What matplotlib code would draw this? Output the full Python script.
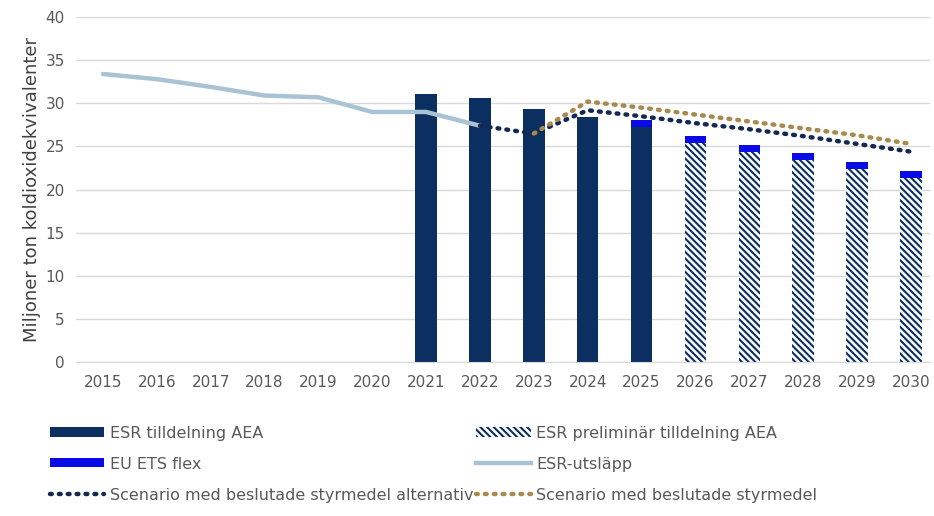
import matplotlib
matplotlib.use("Agg")
import matplotlib.pyplot as plt
from matplotlib.patches import Patch
from matplotlib.lines import Line2D

plt.rcParams['hatch.linewidth'] = 1.5

years = list(range(2015, 2031))

# ESR emissions (historical)
esr_years = [2015, 2016, 2017, 2018, 2019, 2020, 2021, 2022]
esr_utslapp = [33.4, 32.8, 31.9, 30.9, 30.7, 29.0, 29.0, 27.4]

# Annual emission allocations
aea_years = [2021, 2022, 2023, 2024, 2025]
aea = [31.1, 30.6, 29.4, 28.4, 27.2]
prel_years = [2026, 2027, 2028, 2029, 2030]
prel = [25.4, 24.4, 23.4, 22.4, 21.4]

# EU ETS flexibility on top of the allocations
flex_years = [2025, 2026, 2027, 2028, 2029, 2030]
flex = [0.9, 0.8, 0.8, 0.8, 0.8, 0.8]

# Scenarios
scen_alt_years = [2022, 2023, 2024, 2025, 2026, 2027, 2028, 2029, 2030]
scen_alt = [27.4, 26.5, 29.2, 28.5, 27.7, 27.0, 26.2, 25.3, 24.4]
scen_years = [2023, 2024, 2025, 2026, 2027, 2028, 2029, 2030]
scen = [26.5, 30.2, 29.5, 28.7, 27.9, 27.1, 26.3, 25.3]

navy = '#0c2f62'
flex_blue = '#0a0ae6'
esr_col = '#a9c3d4'
gold = '#a88a4e'
navy_dot = '#13294f'
txt = '#595959'
dots = (0, (0.4, 1.6))
hatch = '\\\\\\\\\\'

fig = plt.figure(figsize=(9.34, 5.16), dpi=100)
ax = fig.add_axes([0.0814, 0.298, 0.914, 0.669])

w = 0.4
ax.bar(aea_years, aea, width=w, color=navy, zorder=2)
ax.bar(prel_years, prel, width=w, color='white', edgecolor=navy,
       hatch=hatch, linewidth=0, zorder=2)
alloc = dict(zip(aea_years + prel_years, aea + prel))
flex_base = [alloc[y] for y in flex_years]
ax.bar(flex_years, flex, width=w, bottom=flex_base, color=flex_blue, zorder=3)

ax.plot(esr_years, esr_utslapp, color=esr_col, lw=3.2, zorder=4,
        solid_capstyle='round')
ax.plot(scen_alt_years, scen_alt, color=navy_dot, lw=3.2, ls=dots,
        dash_capstyle='round', zorder=5)
ax.plot(scen_years, scen, color=gold, lw=3.2, ls=dots,
        dash_capstyle='round', zorder=5)

ax.set_ylim(0, 40)
ax.set_xlim(2014.5, 2030.35)
ax.set_yticks(range(0, 41, 5))
ax.set_xticks(years)
ax.grid(axis='y', color='#d9d9d9', lw=1.0, zorder=0)
ax.set_axisbelow(True)
for s in ax.spines.values():
    s.set_visible(False)
ax.spines['bottom'].set_visible(True)
ax.spines['bottom'].set_color('#d9d9d9')
ax.tick_params(length=0, labelsize=11, colors=txt, pad=9)
ax.tick_params(axis='y', pad=8)
ax.set_ylabel('Miljoner ton koldioxidekvivalenter', fontsize=13, color='#404040',
              labelpad=3)

handles = [
    Patch(facecolor=navy, edgecolor='none', label='ESR tilldelning AEA'),
    Patch(facecolor=flex_blue, edgecolor='none', label='EU ETS flex'),
    Line2D([], [], color=navy_dot, lw=3.2, ls=dots,
           dash_capstyle='round', label='Scenario med beslutade styrmedel alternativ'),
    Patch(facecolor='white', edgecolor=navy, hatch=hatch, lw=0,
          label='ESR preliminär tilldelning AEA'),
    Line2D([], [], color=esr_col, lw=3.2, label='ESR-utsläpp'),
    Line2D([], [], color=gold, lw=3.2, ls=dots,
           dash_capstyle='round', label='Scenario med beslutade styrmedel'),
]
leg = fig.legend(handles=handles, ncol=2, loc='upper left',
                 bbox_to_anchor=(0.038, 0.203), frameon=False,
                 prop={'size': 11.5},
                 handlelength=3.4, handleheight=0.5, handletextpad=0.35,
                 columnspacing=0.2, labelspacing=1.0)
for t in leg.get_texts():
    t.set_color(txt)

fig.savefig('out.png', dpi=100)
